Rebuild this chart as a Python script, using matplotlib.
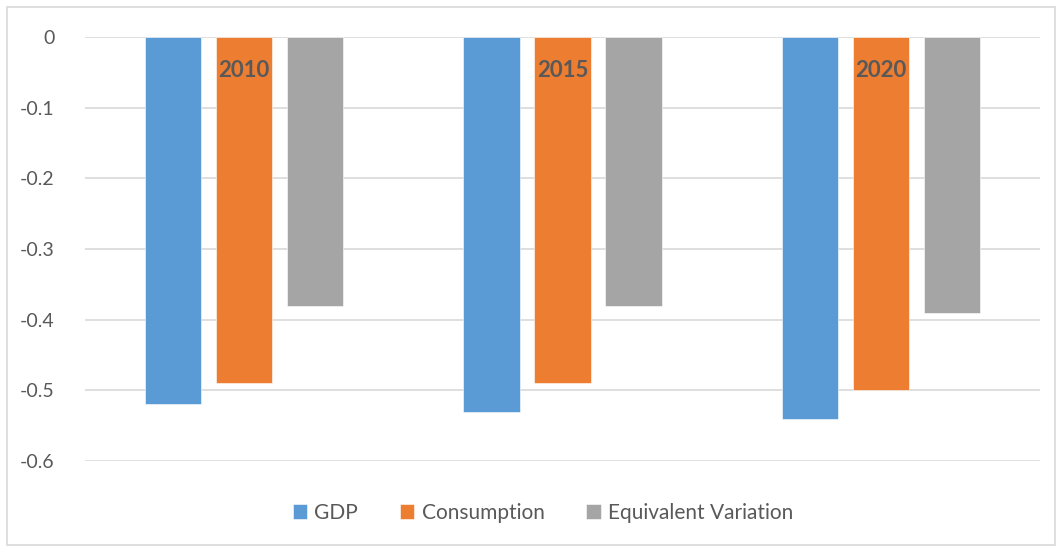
import matplotlib
matplotlib.use("Agg")
import matplotlib.pyplot as plt
from matplotlib.patches import Rectangle
import numpy as np

years = ["2010", "2015", "2020"]
series_names = ["GDP", "Consumption", "Equivalent Variation"]
gdp = [-0.52, -0.53, -0.54]
consumption = [-0.49, -0.49, -0.50]
equivalent_variation = [-0.38, -0.38, -0.39]
colors = ["#5B9BD5", "#ED7D31", "#A5A5A5"]
y_ticks = [0, -0.1, -0.2, -0.3, -0.4, -0.5, -0.6]

plt.rcParams["font.family"] = ["Lato", "DejaVu Sans"]
text_color = "#595959"

W, H = 1058, 548
fig = plt.figure(figsize=(W / 100, H / 100), dpi=100)
fig.patches.append(Rectangle((7 / W, 3 / H), 1048 / W, 538 / H, transform=fig.transFigure,
                             fill=False, edgecolor="#D9D9D9", linewidth=1.2))

ax = fig.add_axes([85 / W, 1 - 461 / H, 955 / W, 424 / H])
x = np.arange(len(years))
width = 0.176
step = 0.223
for i, (vals, name) in enumerate(zip([gdp, consumption, equivalent_variation], series_names)):
    ax.bar(x + (i - 1) * step, vals, width=width, color=colors[i], label=name,
           edgecolor="#ffffff", linewidth=0.4, zorder=3)

for xi, yr in zip(x, years):
    ax.text(xi, -0.048, yr, ha="center", va="center", fontsize=16, fontweight="bold",
            color=text_color, zorder=4)

ax.set_xlim(-0.5, 2.5)
ax.set_ylim(-0.6, 0)
ax.set_yticks(y_ticks)
ax.set_yticklabels([f"{t:g}" if t != 0 else "0" for t in y_ticks])
ax.set_xticks([])
ax.grid(axis="y", color="#D9D9D9", linewidth=1.2, zorder=0)
for s in ax.spines.values():
    s.set_visible(False)
ax.tick_params(axis="y", length=0, labelsize=14, labelcolor=text_color, pad=22)

handles, labels = ax.get_legend_handles_labels()
leg = fig.legend(handles, labels, loc="center", bbox_to_anchor=(543 / W, 1 - 513 / H), ncol=3,
                 frameon=False, fontsize=15, handlelength=0.7, handleheight=0.7,
                 handletextpad=0.35, columnspacing=2.0)
for t in leg.get_texts():
    t.set_color(text_color)

fig.savefig("out.png", dpi=100)
